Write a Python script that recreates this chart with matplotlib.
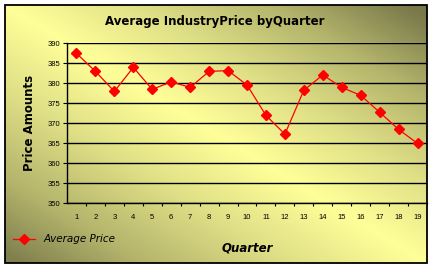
import numpy as np
import matplotlib
matplotlib.use("Agg")
import matplotlib.pyplot as plt
from matplotlib.colors import LinearSegmentedColormap
from matplotlib.lines import Line2D
from matplotlib.patches import Rectangle

# data
quarters = list(range(1, 20))
avg_price = [387.4, 382.9, 377.9, 383.9, 378.4, 380.3, 378.9, 382.9, 383.1, 379.5,
             371.9, 367.2, 378.2, 382.0, 378.9, 376.9, 372.7, 368.4, 364.9]

W, H = 433, 269
fig = plt.figure(figsize=(W / 100, H / 100), dpi=100)
fig.patch.set_facecolor("white")

# gradient background inside the border
bg = fig.add_axes([5 / W, 1 - 263 / H, 422 / W, 258 / H])
xx, yy = np.meshgrid(np.linspace(0, 1, 300), np.linspace(0, 1, 200))
# distance from the bright diagonal (top-left -> bottom-right)
d = (xx - yy) / np.sqrt(2)
t = np.clip(np.abs(d) / 0.68, 0, 1)
t = np.where(d > 0, t, t * 0.95)
cmap = LinearSegmentedColormap.from_list("bg", ["#ffff99", "#dede86", "#b4b46c", "#78784a"])
bg.imshow(t, cmap=cmap, aspect="auto", origin="upper", extent=[0, 1, 0, 1], vmin=0, vmax=1)
bg.set_xlim(0, 1)
bg.set_ylim(0, 1)
bg.axis("off")
fig.patches.append(Rectangle((5 / W, 1 - 263 / H), 422 / W, 258 / H, transform=fig.transFigure,
                             fill=False, edgecolor="black", linewidth=1.3, zorder=10))

ax = fig.add_axes([67 / W, 1 - 203 / H, 360 / W, 160 / H])
ax.set_facecolor("none")
ax.plot(quarters, avg_price, color="red", linewidth=0.9, marker="D", markersize=4.8,
        markerfacecolor="red", markeredgecolor="red")
ax.set_xlim(0.5, 19.5)
ax.set_ylim(350, 390)
ax.set_yticks(np.arange(350, 391, 5))
ax.set_xticks(quarters)
ax.set_xticks(np.arange(1.5, 19.5, 1), minor=True)
ax.tick_params(axis="x", which="major", length=0, labelsize=5.5, pad=8)
ax.tick_params(axis="x", which="minor", length=2.5, width=0.8, direction="out")
ax.tick_params(axis="y", length=3, width=0.8, direction="out", labelsize=5.5, pad=2)
for lbl in ax.get_xticklabels() + ax.get_yticklabels():
    lbl.set_family("Liberation Sans")
ax.yaxis.grid(True, color="black", linewidth=1)
ax.set_axisbelow(True)
for s in ["top", "right"]:
    ax.spines[s].set_visible(False)
ax.spines["left"].set_linewidth(1)
ax.spines["bottom"].set_linewidth(1)

fig.text(215 / W, 1 - 22 / H, "Average IndustryPrice byQuarter", ha="center", va="center",
         fontsize=8.5, fontweight="bold", family="DejaVu Sans")
fig.text(30 / W, 1 - 123 / H, "Price Amounts", rotation=90, ha="center", va="center",
         fontsize=8.5, fontweight="bold", family="DejaVu Sans")
fig.text(247 / W, 1 - 248 / H, "Quarter", ha="center", va="center",
         fontsize=8.5, fontweight="bold", fontstyle="italic", family="DejaVu Sans")

# legend
fig.lines.append(Line2D([13 / W, 35 / W], [1 - 239 / H, 1 - 239 / H], transform=fig.transFigure,
                        color="red", linewidth=0.9, marker=None))
fig.lines.append(Line2D([24 / W], [1 - 239 / H], transform=fig.transFigure, color="red",
                        marker="D", markersize=4.8))
fig.text(44 / W, 1 - 239 / H, "Average Price", ha="left", va="center", fontsize=7.5,
         fontstyle="italic", family="DejaVu Sans")

fig.savefig("out.png", dpi=100)
